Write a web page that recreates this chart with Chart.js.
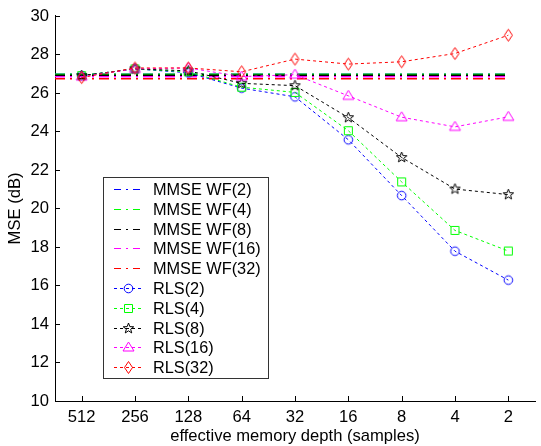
<!DOCTYPE html>
<html>
<head>
<meta charset="utf-8">
<script src="https://cdn.jsdelivr.net/npm/chart.js@4/dist/chart.umd.min.js"></script>
<style>
  html, body { margin: 0; padding: 0; background: #fff; }
</style>
</head>
<body>
<canvas id="chart" width="541" height="446"></canvas>
<script>
// data
const xLabels = ['512', '256', '128', '64', '32', '16', '8', '4', '2'];
const yMin = 10, yMax = 30, yStep = 2;

const wfLabels = ['MMSE WF(2)', 'MMSE WF(4)', 'MMSE WF(8)', 'MMSE WF(16)', 'MMSE WF(32)'];
const wfLevels = [26.97, 26.97, 26.92, 26.84, 26.74];
const wfSpan = [0.5, 9];   // x positions where the WF lines start / end

const rlsLabels = ['RLS(2)', 'RLS(4)', 'RLS(8)', 'RLS(16)', 'RLS(32)'];
const rls2  = [26.9, 27.25, 27.05, 26.25, 25.8, 23.57, 20.67, 17.78, 16.28];
const rls4  = [26.9, 27.25, 27.1, 26.3, 26.03, 24.04, 21.38, 18.86, 17.79];
const rls8  = [26.9, 27.25, 27.15, 26.5, 26.38, 24.72, 22.65, 21.01, 20.72];
const rls16 = [26.85, 27.25, 27.3, 26.85, 26.95, 25.85, 24.74, 24.24, 24.76];
const rls32 = [26.8, 27.3, 27.3, 27.1, 27.76, 27.5, 27.62, 28.05, 29.0];

const colors = ['#0000ff', '#00ff00', '#000000', '#ff00ff', '#ff0000'];
const markerKinds = ['circle', 'square', 'star', 'triangle', 'diamond'];

const FONT = '"Liberation Sans", Arial, sans-serif';
const FSIZE = 16.6;

// hollow matlab-style markers
function makeMarker(kind, color) {
    const c = document.createElement('canvas');
    c.width = 15; c.height = 15;
    const g = c.getContext('2d');
    const m = 7.5;
    g.strokeStyle = color;
    g.lineWidth = 1;
    g.beginPath();
    if (kind === 'circle') {
        g.arc(m, m, 4.3, 0, Math.PI * 2);
    } else if (kind === 'square') {
        g.rect(m - 4, m - 4, 8, 8);
    } else if (kind === 'triangle') {
        g.moveTo(m, m - 5.5);
        g.lineTo(m + 5.5, m + 3.5);
        g.lineTo(m - 5.5, m + 3.5);
        g.closePath();
    } else if (kind === 'diamond') {
        g.moveTo(m, m - 6);
        g.lineTo(m + 4, m);
        g.lineTo(m, m + 6);
        g.lineTo(m - 4, m);
        g.closePath();
    } else if (kind === 'star') {
        for (let i = 0; i < 10; i++) {
            const r = i % 2 === 0 ? 5.5 : 2.3;
            const a = -Math.PI / 2 + i * Math.PI / 5;
            const px = m + r * Math.cos(a), py = m + r * Math.sin(a);
            if (i === 0) g.moveTo(px, py); else g.lineTo(px, py);
        }
        g.closePath();
    }
    g.stroke();
    return c;
}
const markers = markerKinds.map((k, i) => makeMarker(k, colors[i]));

const WF_DASH = [10, 5, 2, 5];
const RLS_DASH = [3, 3];

const datasets = [];
wfLabels.forEach((label, i) => {
    datasets.push({
        label,
        data: wfSpan.map(x => ({ x, y: wfLevels[i] })),
        borderColor: colors[i],
        borderWidth: 1.5,
        borderDash: WF_DASH,
        pointRadius: 0,
        fill: false,
        order: 20 - i
    });
});
[rls2, rls4, rls8, rls16, rls32].forEach((vals, i) => {
    datasets.push({
        label: rlsLabels[i],
        data: vals.map((y, j) => ({ x: j + 1, y })),
        borderColor: colors[i],
        borderWidth: 1,
        borderDash: RLS_DASH,
        pointStyle: markers[i],
        pointRadius: 5,
        pointHoverRadius: 5,
        fill: false,
        order: 10 - i
    });
});

// inward tick marks like matlab
const innerTicks = {
    id: 'innerTicks',
    afterDraw(chart) {
        const { ctx, chartArea: a, scales: { x, y } } = chart;
        ctx.save();
        ctx.strokeStyle = '#000';
        ctx.lineWidth = 1;
        ctx.beginPath();
        x.ticks.forEach(t => {
            const px = Math.round(x.getPixelForValue(t.value)) + 0.5;
            ctx.moveTo(px, a.bottom);
            ctx.lineTo(px, a.bottom - 5);
        });
        y.ticks.forEach(t => {
            const py = Math.round(y.getPixelForValue(t.value)) + 0.5;
            ctx.moveTo(a.left, py);
            ctx.lineTo(a.left + 5, py);
        });
        ctx.stroke();
        ctx.restore();
    }
};

// legend box inside the axes
const boxLegend = {
    id: 'boxLegend',
    afterDraw(chart) {
        const ctx = chart.ctx;
        const bx = 103.5, by = 177.5, bw = 165, bh = 201;
        const rowY0 = 189, rowH = 19.8;
        ctx.save();
        ctx.fillStyle = '#fff';
        ctx.fillRect(bx, by, bw, bh);
        ctx.strokeStyle = '#333';
        ctx.lineWidth = 1;
        ctx.strokeRect(bx, by, bw, bh);
        ctx.font = '16.3px ' + FONT;
        ctx.textBaseline = 'middle';
        chart.data.datasets.forEach((ds, i) => {
            const ry = Math.round(rowY0 + i * rowH) + 0.5;
            ctx.strokeStyle = ds.borderColor;
            ctx.lineWidth = 1;
            ctx.setLineDash(i < 5 ? [7, 5, 2, 5] : RLS_DASH);
            ctx.beginPath();
            ctx.moveTo(114, ry);
            ctx.lineTo(143, ry);
            ctx.stroke();
            ctx.setLineDash([]);
            if (i >= 5) {
                const mk = ds.pointStyle;
                ctx.drawImage(mk, 128.5 - mk.width / 2, ry - mk.height / 2);
            }
            ctx.fillStyle = '#000';
            ctx.fillText(ds.label, 153, ry + 1);
        });
        ctx.restore();
    }
};

new Chart(document.getElementById('chart'), {
    type: 'line',
    data: { datasets },
    options: {
        responsive: false,
        devicePixelRatio: 1,
        animation: false,
        layout: { padding: { top: 14, right: 0, left: 0, bottom: 0 } },
        plugins: {
            legend: { display: false },
            tooltip: { enabled: false }
        },
        scales: {
            x: {
                type: 'linear',
                min: 0.5,
                max: 9.5,
                afterBuildTicks: s => { s.ticks = xLabels.map((_, i) => ({ value: i + 1 })); },
                afterFit: s => { s.height = 45; },
                grid: { display: true, drawOnChartArea: false, drawTicks: false },
                border: { display: true, color: '#000', width: 1 },
                ticks: {
                    color: '#000',
                    font: { family: FONT, size: FSIZE },
                    padding: 6,
                    maxRotation: 0,
                    autoSkip: false,
                    callback: v => xLabels[Math.round(v) - 1]
                },
                title: {
                    display: true,
                    text: 'effective memory depth (samples)',
                    color: '#000',
                    font: { family: FONT, size: FSIZE },
                    padding: { top: 0, bottom: 0 }
                }
            },
            y: {
                min: yMin,
                max: yMax,
                afterFit: s => { s.width = 55; },
                grid: { display: true, drawOnChartArea: false, drawTicks: false },
                border: { display: true, color: '#000', width: 1 },
                ticks: {
                    stepSize: yStep,
                    color: '#000',
                    font: { family: FONT, size: FSIZE },
                    padding: 6
                },
                title: {
                    display: true,
                    text: 'MSE (dB)',
                    color: '#000',
                    font: { family: FONT, size: FSIZE },
                    padding: { top: 5, bottom: 0 }
                }
            }
        }
    },
    plugins: [innerTicks, boxLegend]
});
</script>
</body>
</html>
